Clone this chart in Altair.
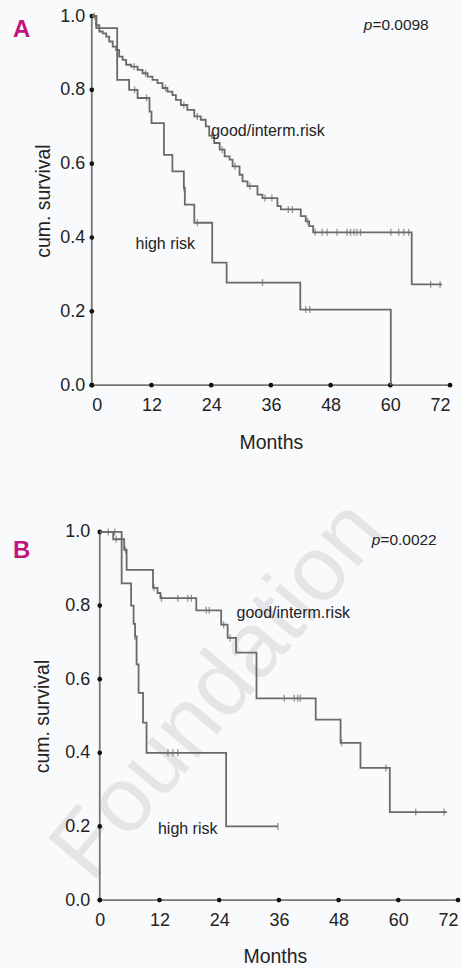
import altair as alt
import pandas as pd

FONT = "Liberation Sans, Arial, sans-serif"
TXT = "#232323"
CURVE = "#6a6a6a"
AXISC = "#777777"
MAGENTA = "#c0157c"
BG = "#f9fafc"

x_ticks = [0, 12, 24, 36, 48, 60, 72]
y_ticks = [0.0, 0.2, 0.4, 0.6, 0.8, 1.0]

# ---------------- Panel A ----------------
a_good_t = [0, 0.9, 1.5, 2.2, 2.9, 3.5, 4.2, 4.9, 5.5, 6.2, 6.9, 7.9, 9.2, 10.2, 11.2,
            12.2, 13.2, 14.2, 15.2, 16.2, 16.9, 17.9, 19.2, 20.6, 21.9, 22.9, 23.6, 24.6,
            25.7, 26.7, 27.7, 28.3, 29.7, 30.3, 31.3, 33.3, 34.3, 37.3, 38.0, 42.0, 43.0,
            43.7, 44.5, 64.3, 70.4]
a_good_s = [1.0, 0.975, 0.958, 0.953, 0.944, 0.931, 0.917, 0.908, 0.89, 0.881, 0.868, 0.863,
            0.854, 0.845, 0.836, 0.827, 0.818, 0.805, 0.795, 0.786, 0.773, 0.759, 0.746,
            0.728, 0.719, 0.701, 0.676, 0.656, 0.638, 0.62, 0.611, 0.593, 0.57, 0.552,
            0.539, 0.516, 0.507, 0.485, 0.476, 0.458, 0.444, 0.431, 0.414, 0.273, 0.273]
a_good_cens_t = [8.5, 10.8, 14.8, 18.5, 21.2, 24.1, 26.2, 28.8, 31.8, 34.8, 36.2, 39.5, 40.3,
                 43.4, 44.9, 46.3, 47.3, 49.3, 51.3, 52.0, 52.7, 53.3, 54.0, 60.1, 61.7,
                 62.7, 63.7, 68.1, 70.0]
a_good_cens_s = [0.863, 0.845, 0.805, 0.759, 0.728, 0.676, 0.638, 0.593, 0.539, 0.507, 0.507,
                 0.476, 0.476, 0.444, 0.414, 0.414, 0.414, 0.414, 0.414, 0.414, 0.414, 0.414,
                 0.414, 0.414, 0.414, 0.414, 0.414, 0.273, 0.273]
a_high_t = [0, 0.9, 5.1, 7.5, 9.2, 11.6, 12.0, 14.5, 16.2, 18.5, 18.7, 20.6, 24.2, 27.1, 41.9, 60.1]
a_high_s = [1.0, 0.967, 0.827, 0.80, 0.778, 0.741, 0.71, 0.624, 0.579, 0.535, 0.489, 0.44,
            0.332, 0.278, 0.205, 0.0]
a_high_cens_t = [0.5, 8.6, 11.0, 18.5, 21.2, 34.3, 43.0, 43.8]
a_high_cens_s = [1.0, 0.80, 0.778, 0.535, 0.44, 0.278, 0.205, 0.205]

# ---------------- Panel B ----------------
b_good_t = [0, 2.7, 4.9, 5.4, 10.7, 11.6, 12.2, 19.4, 24.4, 25.7, 27.4, 31.5, 43.4, 48.4,
            52.4, 58.3, 69.8]
b_good_s = [1.0, 0.98, 0.951, 0.897, 0.848, 0.834, 0.82, 0.787, 0.748, 0.712, 0.672, 0.548,
            0.49, 0.427, 0.359, 0.239, 0.239]
b_good_cens_t = [3.3, 5.2, 10.9, 12.4, 15.7, 17.7, 18.4, 21.4, 22.0, 24.9, 26.2, 37.1, 39.1,
                 39.8, 40.3, 48.6, 57.5, 63.5, 69.2]
b_good_cens_s = [0.98, 0.951, 0.848, 0.82, 0.82, 0.82, 0.82, 0.787, 0.787, 0.748, 0.712, 0.548,
                 0.548, 0.548, 0.548, 0.427, 0.359, 0.239, 0.239]
b_high_t = [0, 4.4, 6.3, 6.8, 7.1, 7.4, 7.8, 8.7, 9.4, 25.4, 35.8]
b_high_s = [1.0, 0.86, 0.80, 0.75, 0.716, 0.64, 0.563, 0.482, 0.40, 0.20, 0.20]
b_high_cens_t = [1.7, 3.0, 7.1, 13.7, 14.7, 15.7, 35.8]
b_high_cens_s = [1.0, 1.0, 0.716, 0.40, 0.40, 0.40, 0.20]

groups = ["good/interm.risk", "high risk"]
a_label_t = [24.0, 8.8]
a_label_s = [0.674, 0.369]
b_label_t = [27.5, 11.7]
b_label_s = [0.766, 0.179]
a_pvalue = "=0.0098"
b_pvalue = "=0.0022"
p_t = 56.4
a_p_s = 0.962
b_p_s = 0.965


def panel(letter, dom, w, h, gt, gs, gct, gcs, ht, hs, hct, hcs, lt, ls, ptxt, ps,
          ylabpad, ytitlepad, watermark=False):
    xax = alt.Axis(values=x_ticks, format="d", title="Months", domain=False, ticks=False,
                   tickSize=0, grid=False, labelPadding=11, titlePadding=19, zindex=1,
                   labelFontSize=18, titleFontSize=19.5, labelFont=FONT, titleFont=FONT,
                   titleFontWeight="normal", labelColor=TXT, titleColor=TXT)
    yax = alt.Axis(values=y_ticks, format=".1f", title="cum. survival", domain=False,
                   ticks=False, tickSize=0, grid=False, labelPadding=ylabpad, zindex=1,
                   titlePadding=ytitlepad, labelFontSize=18, titleFontSize=19.5,
                   labelFont=FONT, titleFont=FONT, titleFontWeight="normal",
                   labelColor=TXT, titleColor=TXT)
    xs = alt.Scale(domain=dom, nice=False, zero=False)
    ys = alt.Scale(domain=[0, 1], nice=False, zero=False)

    def X(f):
        return alt.X(f, type="quantitative", scale=xs, axis=xax)

    def Y(f):
        return alt.Y(f, type="quantitative", scale=ys, axis=yax)

    layers = []
    if watermark:
        wm = alt.Chart(pd.DataFrame({"w": ["Foundation"]})).mark_text(
            font="Liberation Sans", fontSize=92, color="#e5e5e8", angle=310,
            align="left", baseline="alphabetic"
        ).encode(text="w:N", x=alt.value(0), y=alt.value(353))
        layers.append(wm)

    xaxis_df = pd.DataFrame({"x": [x_ticks[0]], "x2": [x_ticks[-1]], "y": [y_ticks[0]]})
    yaxis_df = pd.DataFrame({"x": [x_ticks[0]], "y": [y_ticks[0]], "y2": [y_ticks[-1]]})
    layers.append(alt.Chart(xaxis_df).mark_rule(color=AXISC, strokeWidth=1.8).encode(
        x=X("x"), x2=alt.X2("x2"), y=Y("y")))
    layers.append(alt.Chart(yaxis_df).mark_rule(color=AXISC, strokeWidth=1.8).encode(
        x=X("x"), y=Y("y"), y2=alt.Y2("y2")))

    dots = pd.DataFrame({
        "x": x_ticks + [x_ticks[0]] * len(y_ticks),
        "y": [y_ticks[0]] * len(x_ticks) + y_ticks,
    })
    layers.append(alt.Chart(dots).mark_circle(size=22, color="#111", opacity=1).encode(
        x=X("x"), y=Y("y")))

    curves = pd.DataFrame({
        "t": gt + ht,
        "s": gs + hs,
        "g": [groups[0]] * len(gt) + [groups[1]] * len(ht),
    })
    layers.append(alt.Chart(curves).mark_line(
        interpolate="step-after", color=CURVE, strokeWidth=1.8).encode(
        x=X("t"), y=Y("s"), detail="g:N"))

    cens = pd.DataFrame({"t": gct + hct, "s": gcs + hcs})
    layers.append(alt.Chart(cens).mark_tick(
        orient="vertical", size=7, thickness=1.3, color=CURVE).encode(
        x=X("t"), y=Y("s")))

    labs = pd.DataFrame({"t": lt, "s": ls, "label": groups})
    layers.append(alt.Chart(labs).mark_text(
        font=FONT, fontSize=16, color=TXT, align="left", baseline="alphabetic").encode(
        x=X("t"), y=Y("s"), text="label:N"))

    pdf = pd.DataFrame({"t": [p_t], "s": [ps], "p": ["p"], "v": [ptxt]})
    layers.append(alt.Chart(pdf).mark_text(
        font=FONT, fontSize=15.5, fontStyle="italic", color=TXT, align="right",
        baseline="alphabetic").encode(x=X("t"), y=Y("s"), text="p:N"))
    layers.append(alt.Chart(pdf).mark_text(
        font=FONT, fontSize=15.5, color=TXT, align="left",
        baseline="alphabetic").encode(x=X("t"), y=Y("s"), text="v:N"))

    let = alt.Chart(pd.DataFrame({"l": [letter]})).mark_text(
        font=FONT, fontSize=24, fontWeight="bold", color=MAGENTA, align="left",
        baseline="alphabetic").encode(text="l:N", x=alt.value(-79),
                                      y=alt.value(21 if letter == "A" else 26))
    layers.append(let)

    return alt.layer(*layers).properties(width=w, height=h)


pA = panel("A", [0, 72], 359, 370, a_good_t, a_good_s, a_good_cens_t, a_good_cens_s,
           a_high_t, a_high_s, a_high_cens_t, a_high_cens_s, a_label_t, a_label_s,
           a_pvalue, a_p_s, ylabpad=7, ytitlepad=6)
pB = panel("B", [-1.6, 72], 367, 369, b_good_t, b_good_s, b_good_cens_t, b_good_cens_s,
           b_high_t, b_high_s, b_high_cens_t, b_high_cens_s, b_label_t, b_label_s,
           b_pvalue, b_p_s, ylabpad=2, ytitlepad=12, watermark=True)

chart = alt.vconcat(pA, pB, spacing=32).properties(
    padding={"left": 13, "top": 6, "right": 0, "bottom": 0},
    background=BG,
).configure_view(stroke=None)

chart.save("out.html", embed_options={"renderer": "svg", "actions": False})
